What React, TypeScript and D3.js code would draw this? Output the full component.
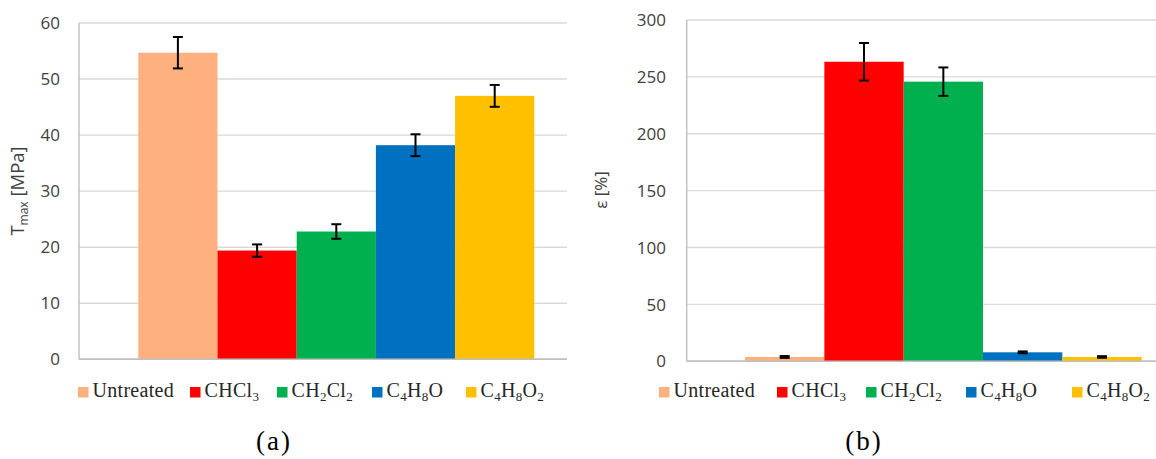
import React from "react";
import * as d3 from "d3";

// ---- data ----
const categories = ["Untreated", "CHCl_3", "CH_2Cl_2", "C_4H_8O", "C_4H_8O_2"];
const colors = ["#FFB07F", "#FF0000", "#00B04F", "#0070C0", "#FFC000"];
const tmaxValues = [54.7, 19.4, 22.8, 38.2, 47.0];
const tmaxErrors = [2.8, 1.1, 1.3, 1.95, 1.95];
const strainValues = [3.8, 263.3, 245.8, 7.9, 3.8];
const strainErrors = [0.8, 16.5, 12.5, 0.8, 0.7];
const tmaxTicks = [0, 10, 20, 30, 40, 50, 60];
const strainTicks = [0, 50, 100, 150, 200, 250, 300];

// ---- layout ----
const W = 1156, H = 459;
const leftPanel = { axisX: 79, right: 567, y0: 359.3, yTop: 23, barL: 138.3, barR: 534.3, tickX: 60, titleX: 24, legendSquares: [78, 190, 277, 372, 466], legendY: 387, caption: "(a)", captionX: 274 };
const rightPanel = { axisX: 686.7, right: 1156, y0: 361.3, yTop: 20, barL: 745, barR: 1141.7, tickX: 666, titleX: 607, legendSquares: [659, 777, 866, 966, 1072], legendY: 387, caption: "(b)", captionX: 864 };

function Label({ text, x, y, size }: { text: string; x: number; y: number; size: number }) {
  const parts: { t: string; sub: boolean }[] = [];
  const re = /_(\d)/g;
  let last = 0;
  let m: RegExpExecArray | null;
  while ((m = re.exec(text))) {
    if (m.index > last) parts.push({ t: text.slice(last, m.index), sub: false });
    parts.push({ t: m[1], sub: true });
    last = m.index + m[0].length;
  }
  if (last < text.length) parts.push({ t: text.slice(last), sub: false });
  let prevSub = false;
  return (
    <text x={x} y={y} fontFamily="'Liberation Serif', serif" fontSize={size} fill="#262626" letterSpacing={0.3}>
      {parts.map((p, i) => {
        const dy = p.sub && !prevSub ? 4 : !p.sub && prevSub ? -4 : 0;
        prevSub = p.sub;
        return (
          <tspan key={i} dy={dy} fontSize={p.sub ? size * 0.65 : size}>
            {p.t}
          </tspan>
        );
      })}
    </text>
  );
}

function Panel({ cfg, values, errors, ticks, domainMax, title }: any) {
  const y = d3.scaleLinear().domain([0, domainMax]).range([cfg.y0, cfg.yTop]);
  const x = d3.scaleBand<string>().domain(categories).range([cfg.barL, cfg.barR]).padding(0);
  const bw = x.bandwidth();
  return (
    <g>
      {ticks.map((t: number) => (
        <line key={"g" + t} x1={cfg.axisX} x2={cfg.right} y1={y(t)} y2={y(t)} stroke={t === 0 ? "#bfbfbf" : "#d9d9d9"} strokeWidth={1.4} />
      ))}
      {values.map((v: number, i: number) => (
        <rect key={"b" + i} x={x(categories[i])} y={y(v)} width={bw} height={cfg.y0 - y(v)} fill={colors[i]} />
      ))}
      <line x1={cfg.axisX} x2={cfg.axisX} y1={y(domainMax)} y2={cfg.y0} stroke="#bfbfbf" strokeWidth={1.4} />
      <line x1={cfg.axisX} x2={cfg.right} y1={cfg.y0} y2={cfg.y0} stroke="#bfbfbf" strokeWidth={1.4} />
      {values.map((v: number, i: number) => {
        const cx = (x(categories[i]) as number) + bw / 2;
        const e = errors[i];
        return (
          <g key={"e" + i} stroke="#000" strokeWidth={2}>
            <line x1={cx} x2={cx} y1={y(v + e)} y2={y(v - e)} />
            <line x1={cx - 5} x2={cx + 5} y1={y(v + e)} y2={y(v + e)} />
            <line x1={cx - 5} x2={cx + 5} y1={y(v - e)} y2={y(v - e)} />
          </g>
        );
      })}
      {ticks.map((t: number) => (
        <text key={"t" + t} x={cfg.tickX} y={y(t)} dy="0.36em" textAnchor="end" fontFamily="'Open Sans', sans-serif" fontSize={17} fill="#404040">
          {t}
        </text>
      ))}
      {title}
      {categories.map((c, i) => (
        <g key={"l" + i}>
          <rect x={cfg.legendSquares[i]} y={cfg.legendY} width={10.5} height={10.5} fill={colors[i]} />
          <Label text={c} x={cfg.legendSquares[i] + 14.5} y={cfg.legendY + 10} size={20} />
        </g>
      ))}
      <text x={cfg.captionX} y={450} textAnchor="middle" fontFamily="'Liberation Serif', serif" fontSize={27} fill="#000" letterSpacing={2}>
        {cfg.caption}
      </text>
    </g>
  );
}

export default function App() {
  const leftTitle = (
    <text transform={`translate(${leftPanel.titleX},191) rotate(-90)`} textAnchor="middle" fontFamily="'Open Sans', sans-serif" fontSize={18.5} fill="#404040">
      T<tspan fontSize={12} dy={4}>max</tspan>
      <tspan dy={-4}> [MPa]</tspan>
    </text>
  );
  const rightTitle = (
    <text transform={`translate(${rightPanel.titleX},190) rotate(-90)`} textAnchor="middle" fontFamily="'Open Sans', sans-serif" fontSize={17} fill="#404040">
      ε [%]
    </text>
  );
  return (
    <svg width={W} height={H} style={{ position: "absolute", left: 0, top: 0, background: "#fff" }}>
      <rect width={W} height={H} fill="#fff" />
      <Panel cfg={leftPanel} values={tmaxValues} errors={tmaxErrors} ticks={tmaxTicks} domainMax={60} title={leftTitle} />
      <Panel cfg={rightPanel} values={strainValues} errors={strainErrors} ticks={strainTicks} domainMax={300} title={rightTitle} />
    </svg>
  );
}
